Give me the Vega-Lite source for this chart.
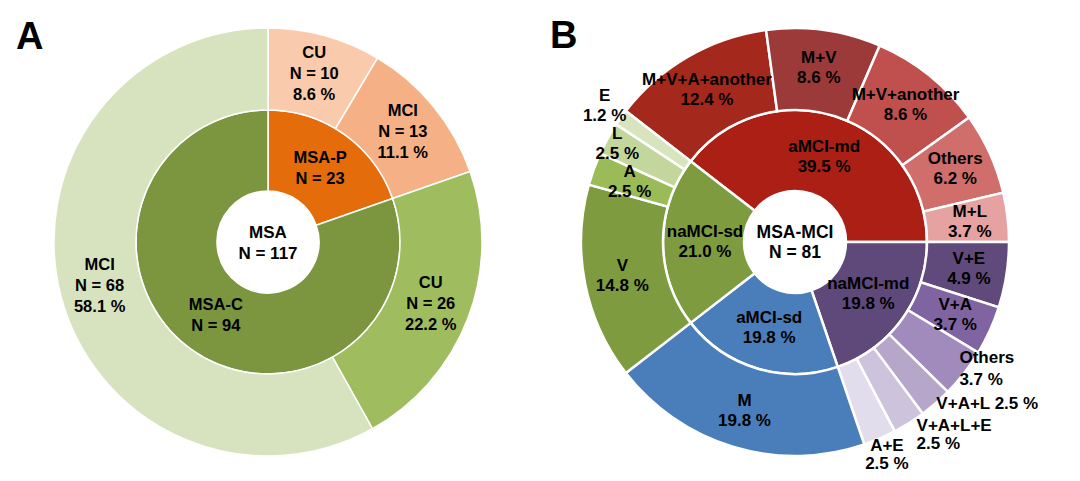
{
  "$schema": "https://vega.github.io/schema/vega-lite/v6.json",
  "padding": 0,
  "spacing": 0,
  "background": "white",
  "config": {"view": {"stroke": null}, "text": {"font": "Liberation Sans", "fontWeight": "bold", "color": "black"}},
  "datasets": {
    "a_inner": [
      {"key": "MSA-P", "n": 23, "ord": 1, "label": "MSA-P\nN = 23"},
      {"key": "MSA-C", "n": 94, "ord": 2, "label": "MSA-C\nN = 94"}
    ],
    "a_outer": [
      {"key": "P-CU", "n": 10, "ord": 1, "label": "CU\nN = 10\n8.6 %"},
      {"key": "P-MCI", "n": 13, "ord": 2, "label": "MCI\nN = 13\n11.1 %"},
      {"key": "C-CU", "n": 26, "ord": 3, "label": "CU\nN = 26\n22.2 %"},
      {"key": "C-MCI", "n": 68, "ord": 4, "label": "MCI\nN = 68\n58.1 %"}
    ],
    "a_center": [{"label": "MSA\nN = 117"}],
    "b_inner": [
      {"key": "aMCI-md", "n": 32, "ord": 1, "label": "aMCI-md\n39.5 %"},
      {"key": "naMCI-md", "n": 16, "ord": 2, "label": "naMCI-md\n19.8 %"},
      {"key": "aMCI-sd", "n": 16, "ord": 3, "label": "aMCI-sd\n19.8 %"},
      {"key": "naMCI-sd", "n": 17, "ord": 4, "label": "naMCI-sd\n21.0 %"}
    ],
    "b_outer": [
      {"key": "M+V+A+another", "n": 10, "ord": 1, "label": "M+V+A+another\n12.4 %"},
      {"key": "M+V", "n": 7, "ord": 2, "label": "M+V\n8.6 %"},
      {"key": "M+V+another", "n": 7, "ord": 3, "label": "M+V+another\n8.6 %"},
      {"key": "Others (aMCI-md)", "n": 5, "ord": 4, "label": "Others\n6.2 %"},
      {"key": "M+L", "n": 3, "ord": 5, "label": "M+L\n3.7 %"},
      {"key": "V+E", "n": 4, "ord": 6, "label": "V+E\n4.9 %"},
      {"key": "V+A", "n": 3, "ord": 7, "label": "V+A\n3.7 %"},
      {"key": "Others (naMCI-md)", "n": 3, "ord": 8, "label": "Others\n3.7 %"},
      {"key": "V+A+L", "n": 2, "ord": 9, "label": "V+A+L 2.5 %"},
      {"key": "V+A+L+E", "n": 2, "ord": 10, "label": "V+A+L+E\n2.5 %"},
      {"key": "A+E", "n": 2, "ord": 11, "label": "A+E\n2.5 %"},
      {"key": "M", "n": 16, "ord": 12, "label": "M\n19.8 %"},
      {"key": "V", "n": 12, "ord": 13, "label": "V\n14.8 %"},
      {"key": "A", "n": 2, "ord": 14, "label": "A\n2.5 %"},
      {"key": "L", "n": 2, "ord": 15, "label": "L\n2.5 %"},
      {"key": "E", "n": 1, "ord": 16, "label": "E\n1.2 %"}
    ],
    "b_center": [{"label": "MSA-MCI\nN = 81"}]
  },
  "resolve": {"scale": {"color": "independent", "theta": "independent"}},
  "hconcat": [
    {
      "width": 536,
      "height": 482,
      "title": {"text": "A", "anchor": "start", "fontSize": 38, "font": "Liberation Sans", "fontWeight": "bold", "color": "black", "dx": 16, "offset": -56},
      "layer": [
        {
          "data": {"name": "a_inner"},
          "mark": {"type": "arc", "radius": 132, "radius2": 51, "stroke": "white", "strokeWidth": 1.5},
          "encoding": {
            "theta": {"field": "n", "type": "quantitative", "stack": true},
            "order": {"field": "ord", "type": "quantitative"},
            "color": {"field": "key", "type": "nominal", "legend": null,
              "scale": {"domain": ["MSA-P", "MSA-C", "P-CU", "P-MCI", "C-CU", "C-MCI"], "range": ["#E46C0A", "#7B963E", "#F9CBAC", "#F5B185", "#9FBC5E", "#D7E3BE"]}}
          }
        },
        {
          "data": {"name": "a_outer"},
          "mark": {"type": "arc", "radius": 214, "radius2": 132, "stroke": "white", "strokeWidth": 1.5},
          "encoding": {
            "theta": {"field": "n", "type": "quantitative", "stack": true},
            "order": {"field": "ord", "type": "quantitative"},
            "color": {"field": "key", "type": "nominal", "legend": null,
              "scale": {"domain": ["MSA-P", "MSA-C", "P-CU", "P-MCI", "C-CU", "C-MCI"], "range": ["#E46C0A", "#7B963E", "#F9CBAC", "#F5B185", "#9FBC5E", "#D7E3BE"]}}
          }
        },
        {
          "data": {"name": "a_inner"},
          "mark": {"type": "text", "radius": 90, "fontSize": 16.5, "lineBreak": "\n", "lineHeight": 21, "align": "center", "baseline": "middle", "dy": -10.5},
          "encoding": {
            "theta": {"field": "n", "type": "quantitative", "stack": true},
            "order": {"field": "ord", "type": "quantitative"},
            "text": {"field": "label", "type": "nominal"}
          }
        },
        {
          "data": {"name": "a_outer"},
          "mark": {"type": "text", "radius": 174, "fontSize": 16.5, "lineBreak": "\n", "lineHeight": 21, "align": "center", "baseline": "middle", "dy": -21},
          "encoding": {
            "theta": {"field": "n", "type": "quantitative", "stack": true},
            "order": {"field": "ord", "type": "quantitative"},
            "text": {"field": "label", "type": "nominal"}
          }
        },
        {
          "data": {"name": "a_center"},
          "mark": {"type": "text", "fontSize": 17, "lineBreak": "\n", "lineHeight": 21, "align": "center", "baseline": "middle", "dy": -9},
          "encoding": {"text": {"field": "label", "type": "nominal"}}
        }
      ]
    },
    {
      "width": 518,
      "height": 482,
      "title": {"text": "B", "anchor": "start", "fontSize": 38, "font": "Liberation Sans", "fontWeight": "bold", "color": "black", "dx": 14, "offset": -56},
      "layer": [
        {
          "data": {"name": "b_inner"},
          "mark": {"type": "arc", "radius": 132, "radius2": 51, "stroke": "white", "strokeWidth": 2.5},
          "encoding": {
            "theta": {"field": "n", "type": "quantitative", "stack": true, "scale": {"range": [-0.9115, 5.3717]}},
            "order": {"field": "ord", "type": "quantitative"},
            "color": {"field": "key", "type": "nominal", "legend": null,
              "scale": {"domain": ["aMCI-md", "naMCI-md", "aMCI-sd", "naMCI-sd", "M+V+A+another", "M+V", "M+V+another", "Others (aMCI-md)", "M+L", "V+E", "V+A", "Others (naMCI-md)", "V+A+L", "V+A+L+E", "A+E", "M", "V", "A", "L", "E"],
                "range": ["#AB1F14", "#5F497A", "#4A7EBB", "#7F9B40", "#A5281C", "#9C3A3A", "#C0504D", "#D06E6B", "#E5A2A1", "#604A7B", "#8064A2", "#A08BBC", "#B5A6CA", "#CDC3DC", "#E2DDEC", "#4A7EBB", "#7F9B40", "#9BBB59", "#C3D69B", "#D7E4BD"]}}
          }
        },
        {
          "data": {"name": "b_outer"},
          "mark": {"type": "arc", "radius": 214, "radius2": 132, "stroke": "white", "strokeWidth": 2.5},
          "encoding": {
            "theta": {"field": "n", "type": "quantitative", "stack": true, "scale": {"range": [-0.9115, 5.3717]}},
            "order": {"field": "ord", "type": "quantitative"},
            "color": {"field": "key", "type": "nominal", "legend": null,
              "scale": {"domain": ["aMCI-md", "naMCI-md", "aMCI-sd", "naMCI-sd", "M+V+A+another", "M+V", "M+V+another", "Others (aMCI-md)", "M+L", "V+E", "V+A", "Others (naMCI-md)", "V+A+L", "V+A+L+E", "A+E", "M", "V", "A", "L", "E"],
                "range": ["#AB1F14", "#5F497A", "#4A7EBB", "#7F9B40", "#A5281C", "#9C3A3A", "#C0504D", "#D06E6B", "#E5A2A1", "#604A7B", "#8064A2", "#A08BBC", "#B5A6CA", "#CDC3DC", "#E2DDEC", "#4A7EBB", "#7F9B40", "#9BBB59", "#C3D69B", "#D7E4BD"]}}
          }
        },
        {
          "data": {"name": "b_inner"},
          "mark": {"type": "text", "radius": 90, "fontSize": 17, "lineBreak": "\n", "lineHeight": 20, "align": "center", "baseline": "middle", "dy": -10},
          "encoding": {
            "theta": {"field": "n", "type": "quantitative", "stack": true, "scale": {"range": [-0.9115, 5.3717]}},
            "order": {"field": "ord", "type": "quantitative"},
            "text": {"field": "label", "type": "nominal"}
          }
        },
        {
          "data": {"name": "b_outer"},
          "mark": {"type": "text", "radius": 176, "lineBreak": "\n", "lineHeight": 20, "align": "center", "baseline": "middle", "dy": -10},
          "encoding": {
            "theta": {"field": "n", "type": "quantitative", "stack": true, "scale": {"range": [-0.9115, 5.3717]}},
            "order": {"field": "ord", "type": "quantitative"},
            "text": {"condition": {"test": "indexof(['M+V+A+another', 'M+V', 'M+V+another', 'Others (aMCI-md)', 'M+L', 'V+E', 'V+A', 'M', 'V', 'A'], datum.key) >= 0", "field": "label"}, "value": ""},
            "size": {"condition": {"test": "indexof(['M+V+A+another', 'M+V', 'M+V+another', 'Others (aMCI-md)', 'M+L', 'V+E', 'V+A', 'M', 'V', 'A'], datum.key) >= 0", "value": 17}, "value": 0}
          }
        },
        {
          "data": {"name": "b_outer"},
          "mark": {"type": "text", "radius": 203, "lineBreak": "\n", "lineHeight": 20, "align": "center", "baseline": "middle", "dy": -10},
          "encoding": {
            "theta": {"field": "n", "type": "quantitative", "stack": true, "scale": {"range": [-0.9115, 5.3717]}},
            "order": {"field": "ord", "type": "quantitative"},
            "text": {"condition": {"test": "datum.key === 'L'", "field": "label"}, "value": ""},
            "size": {"condition": {"test": "datum.key === 'L'", "value": 17}, "value": 0}
          }
        },
        {
          "data": {"name": "b_outer"},
          "mark": {"type": "text", "radius": 234, "lineBreak": "\n", "lineHeight": 20, "align": "center", "baseline": "middle", "dy": -10},
          "encoding": {
            "theta": {"field": "n", "type": "quantitative", "stack": true, "scale": {"range": [-0.9115, 5.3717]}},
            "order": {"field": "ord", "type": "quantitative"},
            "text": {"condition": {"test": "datum.key === 'E'", "field": "label"}, "value": ""},
            "size": {"condition": {"test": "datum.key === 'E'", "value": 17}, "value": 0}
          }
        },
        {
          "data": {"name": "b_outer"},
          "mark": {"type": "text", "radius": 232, "lineBreak": "\n", "lineHeight": 18, "align": "center", "baseline": "middle", "dy": -9},
          "encoding": {
            "theta": {"field": "n", "type": "quantitative", "stack": true, "scale": {"range": [-0.9115, 5.3717]}},
            "order": {"field": "ord", "type": "quantitative"},
            "text": {"condition": {"test": "datum.key === 'A+E'", "field": "label"}, "value": ""},
            "size": {"condition": {"test": "datum.key === 'A+E'", "value": 17}, "value": 0}
          }
        },
        {
          "data": {"name": "b_outer"},
          "mark": {"type": "text", "radius": 208, "lineBreak": "\n", "lineHeight": 22, "align": "left", "baseline": "middle", "dy": -11},
          "encoding": {
            "theta": {"field": "n", "type": "quantitative", "stack": true, "scale": {"range": [-0.9115, 5.3717]}},
            "order": {"field": "ord", "type": "quantitative"},
            "text": {"condition": {"test": "datum.key === 'Others (naMCI-md)'", "field": "label"}, "value": ""},
            "size": {"condition": {"test": "datum.key === 'Others (naMCI-md)'", "value": 17}, "value": 0}
          }
        },
        {
          "data": {"name": "b_outer"},
          "mark": {"type": "text", "radius": 215, "lineBreak": "\n", "lineHeight": 20, "align": "left", "baseline": "middle"},
          "encoding": {
            "theta": {"field": "n", "type": "quantitative", "stack": true, "scale": {"range": [-0.9115, 5.3717]}},
            "order": {"field": "ord", "type": "quantitative"},
            "text": {"condition": {"test": "datum.key === 'V+A+L'", "field": "label"}, "value": ""},
            "size": {"condition": {"test": "datum.key === 'V+A+L'", "value": 17}, "value": 0}
          }
        },
        {
          "data": {"name": "b_outer"},
          "mark": {"type": "text", "radius": 228, "lineBreak": "\n", "lineHeight": 18, "align": "left", "baseline": "middle", "dy": -9},
          "encoding": {
            "theta": {"field": "n", "type": "quantitative", "stack": true, "scale": {"range": [-0.9115, 5.3717]}},
            "order": {"field": "ord", "type": "quantitative"},
            "text": {"condition": {"test": "datum.key === 'V+A+L+E'", "field": "label"}, "value": ""},
            "size": {"condition": {"test": "datum.key === 'V+A+L+E'", "value": 17}, "value": 0}
          }
        },
        {
          "data": {"name": "b_center"},
          "mark": {"type": "text", "fontSize": 17.5, "lineBreak": "\n", "lineHeight": 20, "align": "center", "baseline": "middle", "dy": -9},
          "encoding": {"text": {"field": "label", "type": "nominal"}}
        }
      ]
    }
  ]
}
